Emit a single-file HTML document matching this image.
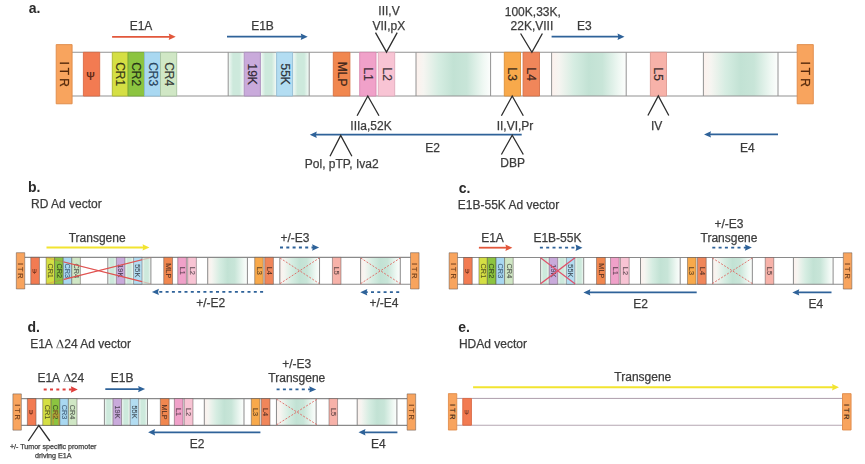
<!DOCTYPE html>
<html><head><meta charset="utf-8"><style>
html,body{margin:0;padding:0;background:#fff;}
body{width:865px;height:464px;overflow:hidden;}
svg{display:block;font-family:"Liberation Sans", sans-serif;filter:blur(0.45px);}
</style></head><body>
<svg width="865" height="464" viewBox="0 0 865 464">
<defs>
<clipPath id="cpb"><rect x="63.9" y="250" width="78.2" height="40"/></clipPath>
<linearGradient id="gg" x1="0" x2="1" y1="0" y2="0">
<stop offset="0" stop-color="#fdf1ed"/><stop offset="0.1" stop-color="#f6f5f1"/>
<stop offset="0.3" stop-color="#d6ede2"/><stop offset="0.5" stop-color="#c2e2d4"/>
<stop offset="0.68" stop-color="#c8e5d8"/><stop offset="0.9" stop-color="#eff8f3"/><stop offset="1" stop-color="#fdfefd"/>
</linearGradient>
<linearGradient id="gs" x1="0" x2="1" y1="0" y2="0">
<stop offset="0" stop-color="#f6fbf8"/><stop offset="0.3" stop-color="#cde9dc"/>
<stop offset="0.7" stop-color="#cde9dc"/><stop offset="1" stop-color="#f6fbf8"/>
</linearGradient>

</defs>
<g><rect x="72" y="52.3" width="725.2" height="43.70" fill="#ffffff"/>
<rect x="228.2" y="52.3" width="16.00" height="43.70" fill="url(#gs)"/>
<rect x="260.4" y="52.3" width="16.20" height="43.70" fill="url(#gs)"/>
<rect x="292.6" y="52.3" width="16.60" height="43.70" fill="url(#gs)"/>
<rect x="416" y="52.3" width="74.60" height="43.70" fill="url(#gg)"/>
<rect x="551.6" y="52.3" width="74.60" height="43.70" fill="url(#gg)"/>
<rect x="703.4" y="52.3" width="74.60" height="43.70" fill="url(#gg)"/>
<line x1="72" y1="52.3" x2="797.2" y2="52.3" stroke="#929292" stroke-width="1.1" vector-effect="non-scaling-stroke"/>
<line x1="72" y1="96.0" x2="797.2" y2="96.0" stroke="#929292" stroke-width="1.1" vector-effect="non-scaling-stroke"/>
<line x1="228.2" y1="52.3" x2="228.2" y2="96.0" stroke="#929292" stroke-width="1" vector-effect="non-scaling-stroke"/>
<line x1="309.2" y1="52.3" x2="309.2" y2="96.0" stroke="#929292" stroke-width="1" vector-effect="non-scaling-stroke"/>
<line x1="416" y1="52.3" x2="416" y2="96.0" stroke="#929292" stroke-width="1" vector-effect="non-scaling-stroke"/>
<line x1="490.6" y1="52.3" x2="490.6" y2="96.0" stroke="#929292" stroke-width="1" vector-effect="non-scaling-stroke"/>
<line x1="551.6" y1="52.3" x2="551.6" y2="96.0" stroke="#929292" stroke-width="1" vector-effect="non-scaling-stroke"/>
<line x1="626.2" y1="52.3" x2="626.2" y2="96.0" stroke="#929292" stroke-width="1" vector-effect="non-scaling-stroke"/>
<line x1="703.4" y1="52.3" x2="703.4" y2="96.0" stroke="#929292" stroke-width="1" vector-effect="non-scaling-stroke"/>
<line x1="778" y1="52.3" x2="778" y2="96.0" stroke="#929292" stroke-width="1" vector-effect="non-scaling-stroke"/>
<rect x="83.4" y="52.3" width="16.30" height="43.70" fill="#f27b52" stroke="#d96a45" stroke-width="0.9" vector-effect="non-scaling-stroke"/><text x="0" y="0" transform="translate(90.45,75.85) rotate(0)" font-weight="bold" stroke="rgba(70,25,10,0.84)" stroke-width="0" text-anchor="middle" dominant-baseline="central" font-size="10.5" fill="rgba(70,25,10,0.84)" letter-spacing="0">Ψ</text>
<rect x="112.3" y="52.3" width="15.80" height="43.70" fill="#d5df44" stroke="#aab530" stroke-width="0.9" vector-effect="non-scaling-stroke"/><text x="0" y="0" transform="translate(120.20,74.15) rotate(90)" font-weight="normal" stroke="rgba(10,8,12,0.74)" stroke-width="0.3" text-anchor="middle" dominant-baseline="central" font-size="12" fill="rgba(10,8,12,0.74)" letter-spacing="0">CR1</text>
<rect x="128.1" y="52.3" width="16.40" height="43.70" fill="#8cc440" stroke="#74a835" stroke-width="0.9" vector-effect="non-scaling-stroke"/><text x="0" y="0" transform="translate(136.30,74.15) rotate(90)" font-weight="normal" stroke="rgba(10,8,12,0.74)" stroke-width="0.3" text-anchor="middle" dominant-baseline="central" font-size="12" fill="rgba(10,8,12,0.74)" letter-spacing="0">CR2</text>
<rect x="144.5" y="52.3" width="16.00" height="43.70" fill="#a9d8f1" stroke="#8cbcd6" stroke-width="0.9" vector-effect="non-scaling-stroke"/><text x="0" y="0" transform="translate(152.50,74.15) rotate(90)" font-weight="normal" stroke="rgba(5,25,55,0.74)" stroke-width="0.3" text-anchor="middle" dominant-baseline="central" font-size="12" fill="rgba(5,25,55,0.74)" letter-spacing="0">CR3</text>
<rect x="160.5" y="52.3" width="16.20" height="43.70" fill="#d0e7c5" stroke="#a9c4a0" stroke-width="0.9" vector-effect="non-scaling-stroke"/><text x="0" y="0" transform="translate(168.60,74.15) rotate(90)" font-weight="normal" stroke="rgba(10,8,12,0.74)" stroke-width="0.3" text-anchor="middle" dominant-baseline="central" font-size="12" fill="rgba(10,8,12,0.74)" letter-spacing="0">CR4</text>
<rect x="244.2" y="52.3" width="16.20" height="43.70" fill="#c9aadb" stroke="#a98dbb" stroke-width="0.9" vector-effect="non-scaling-stroke"/><text x="0" y="0" transform="translate(252.30,74.15) rotate(90)" font-weight="normal" stroke="rgba(10,8,12,0.74)" stroke-width="0.3" text-anchor="middle" dominant-baseline="central" font-size="12" fill="rgba(10,8,12,0.74)" letter-spacing="0">19K</text>
<rect x="276.6" y="52.3" width="16.00" height="43.70" fill="#b3ddf2" stroke="#92bcd3" stroke-width="0.9" vector-effect="non-scaling-stroke"/><text x="0" y="0" transform="translate(284.60,74.15) rotate(90)" font-weight="normal" stroke="rgba(10,8,12,0.74)" stroke-width="0.3" text-anchor="middle" dominant-baseline="central" font-size="12" fill="rgba(10,8,12,0.74)" letter-spacing="0">55K</text>
<rect x="333.3" y="52.3" width="16.60" height="43.70" fill="#f1874f" stroke="#d87040" stroke-width="0.9" vector-effect="non-scaling-stroke"/><text x="0" y="0" transform="translate(341.60,74.15) rotate(90)" font-weight="normal" stroke="rgba(10,8,12,0.74)" stroke-width="0.3" text-anchor="middle" dominant-baseline="central" font-size="12" fill="rgba(10,8,12,0.74)" letter-spacing="0">MLP</text>
<rect x="359.7" y="52.3" width="16.30" height="43.70" fill="#f0a1c9" stroke="#d888b0" stroke-width="0.9" vector-effect="non-scaling-stroke"/><text x="0" y="0" transform="translate(367.85,74.15) rotate(90)" font-weight="normal" stroke="rgba(10,8,12,0.74)" stroke-width="0.3" text-anchor="middle" dominant-baseline="central" font-size="12" fill="rgba(10,8,12,0.74)" letter-spacing="0">L1</text>
<rect x="378.3" y="52.3" width="16.40" height="43.70" fill="#f8c4d4" stroke="#dfaabb" stroke-width="0.9" vector-effect="non-scaling-stroke"/><text x="0" y="0" transform="translate(386.50,74.15) rotate(90)" font-weight="normal" stroke="rgba(10,8,12,0.74)" stroke-width="0.3" text-anchor="middle" dominant-baseline="central" font-size="12" fill="rgba(10,8,12,0.74)" letter-spacing="0">L2</text>
<rect x="504.3" y="52.3" width="16.20" height="43.70" fill="#f8a94b" stroke="#dd9038" stroke-width="0.9" vector-effect="non-scaling-stroke"/><text x="0" y="0" transform="translate(512.40,74.15) rotate(90)" font-weight="normal" stroke="rgba(10,8,12,0.74)" stroke-width="0.3" text-anchor="middle" dominant-baseline="central" font-size="12" fill="rgba(10,8,12,0.74)" letter-spacing="0">L3</text>
<rect x="523.1" y="52.3" width="16.40" height="43.70" fill="#f0865a" stroke="#d26e46" stroke-width="0.9" vector-effect="non-scaling-stroke"/><text x="0" y="0" transform="translate(531.30,74.15) rotate(90)" font-weight="normal" stroke="rgba(10,8,12,0.74)" stroke-width="0.3" text-anchor="middle" dominant-baseline="central" font-size="12" fill="rgba(10,8,12,0.74)" letter-spacing="0">L4</text>
<rect x="650.4" y="52.3" width="16.10" height="43.70" fill="#f7b2a9" stroke="#dc9890" stroke-width="0.9" vector-effect="non-scaling-stroke"/><text x="0" y="0" transform="translate(658.45,74.15) rotate(90)" font-weight="normal" stroke="rgba(10,8,12,0.74)" stroke-width="0.3" text-anchor="middle" dominant-baseline="central" font-size="12" fill="rgba(10,8,12,0.74)" letter-spacing="0">L5</text>
<rect x="56.2" y="44.6" width="15.90" height="59.20" fill="#f8a45e" stroke="#df8a48" stroke-width="0.9" vector-effect="non-scaling-stroke"/><text x="0" y="0" transform="translate(64.15,74.20) rotate(90)" font-weight="normal" stroke="rgba(70,30,5,0.89)" stroke-width="0.3" text-anchor="middle" dominant-baseline="central" font-size="12" fill="rgba(70,30,5,0.89)" letter-spacing="0">I T R</text>
<rect x="797.2" y="44.6" width="16.10" height="59.20" fill="#f8a45e" stroke="#df8a48" stroke-width="0.9" vector-effect="non-scaling-stroke"/><text x="0" y="0" transform="translate(805.25,74.20) rotate(90)" font-weight="normal" stroke="rgba(70,30,5,0.89)" stroke-width="0.3" text-anchor="middle" dominant-baseline="central" font-size="12" fill="rgba(70,30,5,0.89)" letter-spacing="0">I T R</text></g>
<text x="28.7" y="12.8" text-anchor="start" font-size="14" fill="#2a2a2a" font-weight="bold" >a.</text>
<text x="141" y="30.2" text-anchor="middle" font-size="12" fill="#3c3c3c" font-weight="normal" stroke="#3c3c3c" stroke-width="0.25" >E1A</text>
<line x1="112.1" y1="36.8" x2="171.85" y2="36.8" stroke="#e2573b" stroke-width="1.8"/><path d="M175.7,36.8 L168.70,33.60 L169.54,36.8 L168.70,40.00 Z" fill="#e2573b"/>
<text x="262.5" y="30.2" text-anchor="middle" font-size="12" fill="#3c3c3c" font-weight="normal" stroke="#3c3c3c" stroke-width="0.25" >E1B</text>
<line x1="227" y1="36.7" x2="303.85" y2="36.7" stroke="#2e6299" stroke-width="1.8"/><path d="M307.7,36.7 L300.70,33.50 L301.54,36.7 L300.70,39.90 Z" fill="#2e6299"/>
<text x="389" y="15.4" text-anchor="middle" font-size="12" fill="#3c3c3c" font-weight="normal" stroke="#3c3c3c" stroke-width="0.25" >III,V</text>
<text x="388.8" y="29.6" text-anchor="middle" font-size="12" fill="#3c3c3c" font-weight="normal" stroke="#3c3c3c" stroke-width="0.25" >VII,pX</text>
<polyline points="375.5,32.6 386.5,52.1 397.2,32.6" fill="none" stroke="#2d2d2d" stroke-width="1.3"/>
<text x="532.8" y="15.7" text-anchor="middle" font-size="12" fill="#3c3c3c" font-weight="normal" stroke="#3c3c3c" stroke-width="0.25" >100K,33K,</text>
<text x="531.9" y="30.3" text-anchor="middle" font-size="12" fill="#3c3c3c" font-weight="normal" stroke="#3c3c3c" stroke-width="0.25" >22K,VIII</text>
<polyline points="520.6,33.5 531.9,52.3 542.4,33.5" fill="none" stroke="#2d2d2d" stroke-width="1.3"/>
<text x="584.4" y="30.3" text-anchor="middle" font-size="12" fill="#3c3c3c" font-weight="normal" stroke="#3c3c3c" stroke-width="0.25" >E3</text>
<line x1="551.6" y1="36.7" x2="620.65" y2="36.7" stroke="#2e6299" stroke-width="1.8"/><path d="M624.5,36.7 L617.50,33.50 L618.34,36.7 L617.50,39.90 Z" fill="#2e6299"/>
<polyline points="357.1,115.7 367.8,96 379,115.7" fill="none" stroke="#2d2d2d" stroke-width="1.3"/>
<text x="371" y="130.3" text-anchor="middle" font-size="12" fill="#3c3c3c" font-weight="normal" stroke="#3c3c3c" stroke-width="0.25" >IIIa,52K</text>
<line x1="521.7" y1="134.7" x2="313.65" y2="134.7" stroke="#2e6299" stroke-width="1.8"/><path d="M309.8,134.7 L316.80,131.50 L315.96,134.7 L316.80,137.90 Z" fill="#2e6299"/>
<polyline points="330,156.2 340.7,135.5 351.9,156.2" fill="none" stroke="#2d2d2d" stroke-width="1.3"/>
<text x="341.7" y="168" text-anchor="middle" font-size="12" fill="#3c3c3c" font-weight="normal" stroke="#3c3c3c" stroke-width="0.25" >Pol, pTP, Iva2</text>
<text x="432.6" y="151.9" text-anchor="middle" font-size="12" fill="#3c3c3c" font-weight="normal" stroke="#3c3c3c" stroke-width="0.25" >E2</text>
<polyline points="501.4,115.7 512.2,96 523.3,115.7" fill="none" stroke="#2d2d2d" stroke-width="1.3"/>
<text x="515" y="130.3" text-anchor="middle" font-size="12" fill="#3c3c3c" font-weight="normal" stroke="#3c3c3c" stroke-width="0.25" >II,VI,Pr</text>
<polyline points="501.4,154.5 512.2,135.2 523.3,154.5" fill="none" stroke="#2d2d2d" stroke-width="1.3"/>
<text x="512.6" y="167.4" text-anchor="middle" font-size="12" fill="#3c3c3c" font-weight="normal" stroke="#3c3c3c" stroke-width="0.25" >DBP</text>
<polyline points="647.9,115.5 658.3,96 668.8,115.5" fill="none" stroke="#2d2d2d" stroke-width="1.3"/>
<text x="656.6" y="130.3" text-anchor="middle" font-size="12" fill="#3c3c3c" font-weight="normal" stroke="#3c3c3c" stroke-width="0.25" >IV</text>
<line x1="778" y1="134.4" x2="707.85" y2="134.4" stroke="#2e6299" stroke-width="1.8"/><path d="M704,134.4 L711.00,131.20 L710.16,134.4 L711.00,137.60 Z" fill="#2e6299"/>
<text x="747.3" y="151.6" text-anchor="middle" font-size="12" fill="#3c3c3c" font-weight="normal" stroke="#3c3c3c" stroke-width="0.25" >E4</text>
<g transform="translate(-13.60,225.34) scale(0.532,0.613)"><rect x="72" y="52.3" width="725.2" height="43.70" fill="#ffffff"/>
<rect x="228.2" y="52.3" width="16.00" height="43.70" fill="url(#gs)"/>
<rect x="260.4" y="52.3" width="16.20" height="43.70" fill="url(#gs)"/>
<rect x="292.6" y="52.3" width="16.60" height="43.70" fill="url(#gs)"/>
<rect x="416" y="52.3" width="74.60" height="43.70" fill="url(#gg)"/>
<rect x="551.6" y="52.3" width="74.60" height="43.70" fill="url(#gg)"/>
<rect x="703.4" y="52.3" width="74.60" height="43.70" fill="url(#gg)"/>
<line x1="72" y1="52.3" x2="797.2" y2="52.3" stroke="#8a8a8a" stroke-width="1.1" vector-effect="non-scaling-stroke"/>
<line x1="72" y1="96.0" x2="797.2" y2="96.0" stroke="#8a8a8a" stroke-width="1.1" vector-effect="non-scaling-stroke"/>
<line x1="228.2" y1="52.3" x2="228.2" y2="96.0" stroke="#8a8a8a" stroke-width="1" vector-effect="non-scaling-stroke"/>
<line x1="309.2" y1="52.3" x2="309.2" y2="96.0" stroke="#8a8a8a" stroke-width="1" vector-effect="non-scaling-stroke"/>
<line x1="416" y1="52.3" x2="416" y2="96.0" stroke="#8a8a8a" stroke-width="1" vector-effect="non-scaling-stroke"/>
<line x1="490.6" y1="52.3" x2="490.6" y2="96.0" stroke="#8a8a8a" stroke-width="1" vector-effect="non-scaling-stroke"/>
<line x1="551.6" y1="52.3" x2="551.6" y2="96.0" stroke="#8a8a8a" stroke-width="1" vector-effect="non-scaling-stroke"/>
<line x1="626.2" y1="52.3" x2="626.2" y2="96.0" stroke="#8a8a8a" stroke-width="1" vector-effect="non-scaling-stroke"/>
<line x1="703.4" y1="52.3" x2="703.4" y2="96.0" stroke="#8a8a8a" stroke-width="1" vector-effect="non-scaling-stroke"/>
<line x1="778" y1="52.3" x2="778" y2="96.0" stroke="#8a8a8a" stroke-width="1" vector-effect="non-scaling-stroke"/>
<rect x="83.4" y="52.3" width="16.30" height="43.70" fill="#f27b52" stroke="rgba(80,70,70,0.5)" stroke-width="0.9" vector-effect="non-scaling-stroke"/><text x="0" y="0" transform="translate(90.45,75.85) rotate(0)" font-weight="bold" stroke="rgba(70,25,10,0.65)" stroke-width="0" text-anchor="middle" dominant-baseline="central" font-size="10.5" fill="rgba(70,25,10,0.65)" letter-spacing="0">Ψ</text>
<rect x="112.3" y="52.3" width="15.80" height="43.70" fill="#d5df44" stroke="rgba(80,70,70,0.5)" stroke-width="0.9" vector-effect="non-scaling-stroke"/><text x="0" y="0" transform="translate(120.20,74.15) rotate(90)" font-weight="normal" stroke="rgba(10,8,12,0.55)" stroke-width="0.3" text-anchor="middle" dominant-baseline="central" font-size="12" fill="rgba(10,8,12,0.55)" letter-spacing="0">CR1</text>
<rect x="128.1" y="52.3" width="16.40" height="43.70" fill="#8cc440" stroke="rgba(80,70,70,0.5)" stroke-width="0.9" vector-effect="non-scaling-stroke"/><text x="0" y="0" transform="translate(136.30,74.15) rotate(90)" font-weight="normal" stroke="rgba(10,8,12,0.55)" stroke-width="0.3" text-anchor="middle" dominant-baseline="central" font-size="12" fill="rgba(10,8,12,0.55)" letter-spacing="0">CR2</text>
<rect x="144.5" y="52.3" width="16.00" height="43.70" fill="#a9d8f1" stroke="rgba(80,70,70,0.5)" stroke-width="0.9" vector-effect="non-scaling-stroke"/><text x="0" y="0" transform="translate(152.50,74.15) rotate(90)" font-weight="normal" stroke="rgba(5,25,55,0.55)" stroke-width="0.3" text-anchor="middle" dominant-baseline="central" font-size="12" fill="rgba(5,25,55,0.55)" letter-spacing="0">CR3</text>
<rect x="160.5" y="52.3" width="16.20" height="43.70" fill="#d0e7c5" stroke="rgba(80,70,70,0.5)" stroke-width="0.9" vector-effect="non-scaling-stroke"/><text x="0" y="0" transform="translate(168.60,74.15) rotate(90)" font-weight="normal" stroke="rgba(10,8,12,0.55)" stroke-width="0.3" text-anchor="middle" dominant-baseline="central" font-size="12" fill="rgba(10,8,12,0.55)" letter-spacing="0">CR4</text>
<rect x="244.2" y="52.3" width="16.20" height="43.70" fill="#c9aadb" stroke="rgba(80,70,70,0.5)" stroke-width="0.9" vector-effect="non-scaling-stroke"/><text x="0" y="0" transform="translate(252.30,74.15) rotate(90)" font-weight="normal" stroke="rgba(10,8,12,0.55)" stroke-width="0.3" text-anchor="middle" dominant-baseline="central" font-size="12" fill="rgba(10,8,12,0.55)" letter-spacing="0">19K</text>
<rect x="276.6" y="52.3" width="16.00" height="43.70" fill="#b3ddf2" stroke="rgba(80,70,70,0.5)" stroke-width="0.9" vector-effect="non-scaling-stroke"/><text x="0" y="0" transform="translate(284.60,74.15) rotate(90)" font-weight="normal" stroke="rgba(10,8,12,0.55)" stroke-width="0.3" text-anchor="middle" dominant-baseline="central" font-size="12" fill="rgba(10,8,12,0.55)" letter-spacing="0">55K</text>
<rect x="333.3" y="52.3" width="16.60" height="43.70" fill="#f1874f" stroke="rgba(80,70,70,0.5)" stroke-width="0.9" vector-effect="non-scaling-stroke"/><text x="0" y="0" transform="translate(341.60,74.15) rotate(90)" font-weight="normal" stroke="rgba(10,8,12,0.55)" stroke-width="0.3" text-anchor="middle" dominant-baseline="central" font-size="12" fill="rgba(10,8,12,0.55)" letter-spacing="0">MLP</text>
<rect x="359.7" y="52.3" width="16.30" height="43.70" fill="#f0a1c9" stroke="rgba(80,70,70,0.5)" stroke-width="0.9" vector-effect="non-scaling-stroke"/><text x="0" y="0" transform="translate(367.85,74.15) rotate(90)" font-weight="normal" stroke="rgba(10,8,12,0.55)" stroke-width="0.3" text-anchor="middle" dominant-baseline="central" font-size="12" fill="rgba(10,8,12,0.55)" letter-spacing="0">L1</text>
<rect x="378.3" y="52.3" width="16.40" height="43.70" fill="#f8c4d4" stroke="rgba(80,70,70,0.5)" stroke-width="0.9" vector-effect="non-scaling-stroke"/><text x="0" y="0" transform="translate(386.50,74.15) rotate(90)" font-weight="normal" stroke="rgba(10,8,12,0.55)" stroke-width="0.3" text-anchor="middle" dominant-baseline="central" font-size="12" fill="rgba(10,8,12,0.55)" letter-spacing="0">L2</text>
<rect x="504.3" y="52.3" width="16.20" height="43.70" fill="#f8a94b" stroke="rgba(80,70,70,0.5)" stroke-width="0.9" vector-effect="non-scaling-stroke"/><text x="0" y="0" transform="translate(512.40,74.15) rotate(90)" font-weight="normal" stroke="rgba(10,8,12,0.55)" stroke-width="0.3" text-anchor="middle" dominant-baseline="central" font-size="12" fill="rgba(10,8,12,0.55)" letter-spacing="0">L3</text>
<rect x="523.1" y="52.3" width="16.40" height="43.70" fill="#f0865a" stroke="rgba(80,70,70,0.5)" stroke-width="0.9" vector-effect="non-scaling-stroke"/><text x="0" y="0" transform="translate(531.30,74.15) rotate(90)" font-weight="normal" stroke="rgba(10,8,12,0.55)" stroke-width="0.3" text-anchor="middle" dominant-baseline="central" font-size="12" fill="rgba(10,8,12,0.55)" letter-spacing="0">L4</text>
<rect x="650.4" y="52.3" width="16.10" height="43.70" fill="#f7b2a9" stroke="rgba(80,70,70,0.5)" stroke-width="0.9" vector-effect="non-scaling-stroke"/><text x="0" y="0" transform="translate(658.45,74.15) rotate(90)" font-weight="normal" stroke="rgba(10,8,12,0.55)" stroke-width="0.3" text-anchor="middle" dominant-baseline="central" font-size="12" fill="rgba(10,8,12,0.55)" letter-spacing="0">L5</text>
<rect x="56.2" y="44.6" width="15.90" height="59.20" fill="#f8a45e" stroke="rgba(80,70,70,0.5)" stroke-width="0.9" vector-effect="non-scaling-stroke"/><text x="0" y="0" transform="translate(64.15,74.20) rotate(90)" font-weight="normal" stroke="rgba(70,30,5,0.7000000000000001)" stroke-width="0.3" text-anchor="middle" dominant-baseline="central" font-size="12" fill="rgba(70,30,5,0.7000000000000001)" letter-spacing="0">I T R</text>
<rect x="797.2" y="44.6" width="16.10" height="59.20" fill="#f8a45e" stroke="rgba(80,70,70,0.5)" stroke-width="0.9" vector-effect="non-scaling-stroke"/><text x="0" y="0" transform="translate(805.25,74.20) rotate(90)" font-weight="normal" stroke="rgba(70,30,5,0.7000000000000001)" stroke-width="0.3" text-anchor="middle" dominant-baseline="central" font-size="12" fill="rgba(70,30,5,0.7000000000000001)" letter-spacing="0">I T R</text></g>
<text x="27.9" y="192.3" text-anchor="start" font-size="14" fill="#2a2a2a" font-weight="bold" >b.</text>
<text x="31" y="208" text-anchor="start" font-size="12" fill="#3c3c3c" font-weight="normal" stroke="#3c3c3c" stroke-width="0.25" >RD Ad vector</text>
<text x="97.2" y="242.4" text-anchor="middle" font-size="12" fill="#3c3c3c" font-weight="normal" stroke="#3c3c3c" stroke-width="0.25" >Transgene</text>
<line x1="46.5" y1="247.4" x2="145.65" y2="247.4" stroke="#f2e430" stroke-width="2"/><path d="M149.5,247.4 L142.50,244.20 L143.34,247.4 L142.50,250.60 Z" fill="#f2e430"/>
<g opacity="0.28"><line x1="46.5" y1="257.6" x2="150.5" y2="283.8" stroke="#e0504e" stroke-width="1.1"/><line x1="46.5" y1="283.8" x2="150.5" y2="257.6" stroke="#e0504e" stroke-width="1.1"/></g>
<g clip-path="url(#cpb)"><line x1="46.5" y1="257.6" x2="150.5" y2="283.8" stroke="#e0504e" stroke-width="1.1"/><line x1="46.5" y1="283.8" x2="150.5" y2="257.6" stroke="#e0504e" stroke-width="1.1"/></g>
<line x1="280" y1="258" x2="319.3" y2="283.6" stroke="#e06862" stroke-width="0.9" stroke-dasharray="2,1.5"/><line x1="280" y1="283.6" x2="319.3" y2="258" stroke="#e06862" stroke-width="0.9" stroke-dasharray="2,1.5"/>
<line x1="360.7" y1="258" x2="400.3" y2="283.6" stroke="#e06862" stroke-width="0.9" stroke-dasharray="2,1.5"/><line x1="360.7" y1="283.6" x2="400.3" y2="258" stroke="#e06862" stroke-width="0.9" stroke-dasharray="2,1.5"/>
<text x="295" y="242.4" text-anchor="middle" font-size="12" fill="#3c3c3c" font-weight="normal" stroke="#3c3c3c" stroke-width="0.25" >+/-E3</text>
<line x1="280" y1="247.5" x2="315.25" y2="247.5" stroke="#2e6299" stroke-width="1.8" stroke-dasharray="3.0,3.3"/><path d="M319.1,247.5 L312.10,244.30 L312.94,247.5 L312.10,250.70 Z" fill="#2e6299"/>
<line x1="263.1" y1="291.9" x2="155.75" y2="291.9" stroke="#2e6299" stroke-width="1.8" stroke-dasharray="3.0,3.3"/><path d="M151.9,291.9 L158.90,288.70 L158.06,291.9 L158.90,295.10 Z" fill="#2e6299"/>
<text x="210.8" y="307.4" text-anchor="middle" font-size="12" fill="#3c3c3c" font-weight="normal" stroke="#3c3c3c" stroke-width="0.25" >+/-E2</text>
<line x1="399.2" y1="292.2" x2="364.15" y2="292.2" stroke="#2e6299" stroke-width="1.8" stroke-dasharray="3.0,3.3"/><path d="M360.3,292.2 L367.30,289.00 L366.46,292.2 L367.30,295.40 Z" fill="#2e6299"/>
<text x="383.9" y="307.4" text-anchor="middle" font-size="12" fill="#3c3c3c" font-weight="normal" stroke="#3c3c3c" stroke-width="0.25" >+/-E4</text>
<g transform="translate(419.20,225.44) scale(0.532,0.613)"><rect x="72" y="52.3" width="725.2" height="43.70" fill="#ffffff"/>
<rect x="228.2" y="52.3" width="16.00" height="43.70" fill="url(#gs)"/>
<rect x="260.4" y="52.3" width="16.20" height="43.70" fill="url(#gs)"/>
<rect x="292.6" y="52.3" width="16.60" height="43.70" fill="url(#gs)"/>
<rect x="416" y="52.3" width="74.60" height="43.70" fill="url(#gg)"/>
<rect x="551.6" y="52.3" width="74.60" height="43.70" fill="url(#gg)"/>
<rect x="703.4" y="52.3" width="74.60" height="43.70" fill="url(#gg)"/>
<line x1="72" y1="52.3" x2="797.2" y2="52.3" stroke="#8a8a8a" stroke-width="1.1" vector-effect="non-scaling-stroke"/>
<line x1="72" y1="96.0" x2="797.2" y2="96.0" stroke="#8a8a8a" stroke-width="1.1" vector-effect="non-scaling-stroke"/>
<line x1="228.2" y1="52.3" x2="228.2" y2="96.0" stroke="#8a8a8a" stroke-width="1" vector-effect="non-scaling-stroke"/>
<line x1="309.2" y1="52.3" x2="309.2" y2="96.0" stroke="#8a8a8a" stroke-width="1" vector-effect="non-scaling-stroke"/>
<line x1="416" y1="52.3" x2="416" y2="96.0" stroke="#8a8a8a" stroke-width="1" vector-effect="non-scaling-stroke"/>
<line x1="490.6" y1="52.3" x2="490.6" y2="96.0" stroke="#8a8a8a" stroke-width="1" vector-effect="non-scaling-stroke"/>
<line x1="551.6" y1="52.3" x2="551.6" y2="96.0" stroke="#8a8a8a" stroke-width="1" vector-effect="non-scaling-stroke"/>
<line x1="626.2" y1="52.3" x2="626.2" y2="96.0" stroke="#8a8a8a" stroke-width="1" vector-effect="non-scaling-stroke"/>
<line x1="703.4" y1="52.3" x2="703.4" y2="96.0" stroke="#8a8a8a" stroke-width="1" vector-effect="non-scaling-stroke"/>
<line x1="778" y1="52.3" x2="778" y2="96.0" stroke="#8a8a8a" stroke-width="1" vector-effect="non-scaling-stroke"/>
<rect x="83.4" y="52.3" width="16.30" height="43.70" fill="#f27b52" stroke="rgba(80,70,70,0.5)" stroke-width="0.9" vector-effect="non-scaling-stroke"/><text x="0" y="0" transform="translate(90.45,75.85) rotate(0)" font-weight="bold" stroke="rgba(70,25,10,0.65)" stroke-width="0" text-anchor="middle" dominant-baseline="central" font-size="10.5" fill="rgba(70,25,10,0.65)" letter-spacing="0">Ψ</text>
<rect x="112.3" y="52.3" width="15.80" height="43.70" fill="#d5df44" stroke="rgba(80,70,70,0.5)" stroke-width="0.9" vector-effect="non-scaling-stroke"/><text x="0" y="0" transform="translate(120.20,74.15) rotate(90)" font-weight="normal" stroke="rgba(10,8,12,0.55)" stroke-width="0.3" text-anchor="middle" dominant-baseline="central" font-size="12" fill="rgba(10,8,12,0.55)" letter-spacing="0">CR1</text>
<rect x="128.1" y="52.3" width="16.40" height="43.70" fill="#8cc440" stroke="rgba(80,70,70,0.5)" stroke-width="0.9" vector-effect="non-scaling-stroke"/><text x="0" y="0" transform="translate(136.30,74.15) rotate(90)" font-weight="normal" stroke="rgba(10,8,12,0.55)" stroke-width="0.3" text-anchor="middle" dominant-baseline="central" font-size="12" fill="rgba(10,8,12,0.55)" letter-spacing="0">CR2</text>
<rect x="144.5" y="52.3" width="16.00" height="43.70" fill="#a9d8f1" stroke="rgba(80,70,70,0.5)" stroke-width="0.9" vector-effect="non-scaling-stroke"/><text x="0" y="0" transform="translate(152.50,74.15) rotate(90)" font-weight="normal" stroke="rgba(5,25,55,0.55)" stroke-width="0.3" text-anchor="middle" dominant-baseline="central" font-size="12" fill="rgba(5,25,55,0.55)" letter-spacing="0">CR3</text>
<rect x="160.5" y="52.3" width="16.20" height="43.70" fill="#d0e7c5" stroke="rgba(80,70,70,0.5)" stroke-width="0.9" vector-effect="non-scaling-stroke"/><text x="0" y="0" transform="translate(168.60,74.15) rotate(90)" font-weight="normal" stroke="rgba(10,8,12,0.55)" stroke-width="0.3" text-anchor="middle" dominant-baseline="central" font-size="12" fill="rgba(10,8,12,0.55)" letter-spacing="0">CR4</text>
<rect x="244.2" y="52.3" width="16.20" height="43.70" fill="#c9aadb" stroke="rgba(80,70,70,0.5)" stroke-width="0.9" vector-effect="non-scaling-stroke"/><text x="0" y="0" transform="translate(252.30,74.15) rotate(90)" font-weight="normal" stroke="rgba(10,8,12,0.55)" stroke-width="0.3" text-anchor="middle" dominant-baseline="central" font-size="12" fill="rgba(10,8,12,0.55)" letter-spacing="0">19K</text>
<rect x="276.6" y="52.3" width="16.00" height="43.70" fill="#b3ddf2" stroke="rgba(80,70,70,0.5)" stroke-width="0.9" vector-effect="non-scaling-stroke"/><text x="0" y="0" transform="translate(284.60,74.15) rotate(90)" font-weight="normal" stroke="rgba(10,8,12,0.55)" stroke-width="0.3" text-anchor="middle" dominant-baseline="central" font-size="12" fill="rgba(10,8,12,0.55)" letter-spacing="0">55K</text>
<rect x="333.3" y="52.3" width="16.60" height="43.70" fill="#f1874f" stroke="rgba(80,70,70,0.5)" stroke-width="0.9" vector-effect="non-scaling-stroke"/><text x="0" y="0" transform="translate(341.60,74.15) rotate(90)" font-weight="normal" stroke="rgba(10,8,12,0.55)" stroke-width="0.3" text-anchor="middle" dominant-baseline="central" font-size="12" fill="rgba(10,8,12,0.55)" letter-spacing="0">MLP</text>
<rect x="359.7" y="52.3" width="16.30" height="43.70" fill="#f0a1c9" stroke="rgba(80,70,70,0.5)" stroke-width="0.9" vector-effect="non-scaling-stroke"/><text x="0" y="0" transform="translate(367.85,74.15) rotate(90)" font-weight="normal" stroke="rgba(10,8,12,0.55)" stroke-width="0.3" text-anchor="middle" dominant-baseline="central" font-size="12" fill="rgba(10,8,12,0.55)" letter-spacing="0">L1</text>
<rect x="378.3" y="52.3" width="16.40" height="43.70" fill="#f8c4d4" stroke="rgba(80,70,70,0.5)" stroke-width="0.9" vector-effect="non-scaling-stroke"/><text x="0" y="0" transform="translate(386.50,74.15) rotate(90)" font-weight="normal" stroke="rgba(10,8,12,0.55)" stroke-width="0.3" text-anchor="middle" dominant-baseline="central" font-size="12" fill="rgba(10,8,12,0.55)" letter-spacing="0">L2</text>
<rect x="504.3" y="52.3" width="16.20" height="43.70" fill="#f8a94b" stroke="rgba(80,70,70,0.5)" stroke-width="0.9" vector-effect="non-scaling-stroke"/><text x="0" y="0" transform="translate(512.40,74.15) rotate(90)" font-weight="normal" stroke="rgba(10,8,12,0.55)" stroke-width="0.3" text-anchor="middle" dominant-baseline="central" font-size="12" fill="rgba(10,8,12,0.55)" letter-spacing="0">L3</text>
<rect x="523.1" y="52.3" width="16.40" height="43.70" fill="#f0865a" stroke="rgba(80,70,70,0.5)" stroke-width="0.9" vector-effect="non-scaling-stroke"/><text x="0" y="0" transform="translate(531.30,74.15) rotate(90)" font-weight="normal" stroke="rgba(10,8,12,0.55)" stroke-width="0.3" text-anchor="middle" dominant-baseline="central" font-size="12" fill="rgba(10,8,12,0.55)" letter-spacing="0">L4</text>
<rect x="650.4" y="52.3" width="16.10" height="43.70" fill="#f7b2a9" stroke="rgba(80,70,70,0.5)" stroke-width="0.9" vector-effect="non-scaling-stroke"/><text x="0" y="0" transform="translate(658.45,74.15) rotate(90)" font-weight="normal" stroke="rgba(10,8,12,0.55)" stroke-width="0.3" text-anchor="middle" dominant-baseline="central" font-size="12" fill="rgba(10,8,12,0.55)" letter-spacing="0">L5</text>
<rect x="56.2" y="44.6" width="15.90" height="59.20" fill="#f8a45e" stroke="rgba(80,70,70,0.5)" stroke-width="0.9" vector-effect="non-scaling-stroke"/><text x="0" y="0" transform="translate(64.15,74.20) rotate(90)" font-weight="normal" stroke="rgba(70,30,5,0.7000000000000001)" stroke-width="0.3" text-anchor="middle" dominant-baseline="central" font-size="12" fill="rgba(70,30,5,0.7000000000000001)" letter-spacing="0">I T R</text>
<rect x="797.2" y="44.6" width="16.10" height="59.20" fill="#f8a45e" stroke="rgba(80,70,70,0.5)" stroke-width="0.9" vector-effect="non-scaling-stroke"/><text x="0" y="0" transform="translate(805.25,74.20) rotate(90)" font-weight="normal" stroke="rgba(70,30,5,0.7000000000000001)" stroke-width="0.3" text-anchor="middle" dominant-baseline="central" font-size="12" fill="rgba(70,30,5,0.7000000000000001)" letter-spacing="0">I T R</text></g>
<text x="458.7" y="193.2" text-anchor="start" font-size="14" fill="#2a2a2a" font-weight="bold" >c.</text>
<text x="457.8" y="208.6" text-anchor="start" font-size="12" fill="#3c3c3c" font-weight="normal" stroke="#3c3c3c" stroke-width="0.25" >E1B-55K Ad vector</text>
<text x="492.5" y="242" text-anchor="middle" font-size="12" fill="#3c3c3c" font-weight="normal" stroke="#3c3c3c" stroke-width="0.25" >E1A</text>
<line x1="478.9" y1="247.7" x2="508.55" y2="247.7" stroke="#e2573b" stroke-width="1.8"/><path d="M512.4,247.7 L505.40,244.50 L506.24,247.7 L505.40,250.90 Z" fill="#e2573b"/>
<text x="557.4" y="242" text-anchor="middle" font-size="12" fill="#3c3c3c" font-weight="normal" stroke="#3c3c3c" stroke-width="0.25" >E1B-55K</text>
<line x1="539.9" y1="247.7" x2="578.65" y2="247.7" stroke="#2e6299" stroke-width="1.8" stroke-dasharray="3.0,3.3"/><path d="M582.5,247.7 L575.50,244.50 L576.34,247.7 L575.50,250.90 Z" fill="#2e6299"/>
<line x1="540.5" y1="257.8" x2="575" y2="283.8" stroke="#e0506a" stroke-width="1.3"/><line x1="540.5" y1="283.8" x2="575" y2="257.8" stroke="#e0506a" stroke-width="1.3"/>
<line x1="712.3" y1="258" x2="752.4" y2="283.6" stroke="#e06862" stroke-width="0.9" stroke-dasharray="2,1.5"/><line x1="712.3" y1="283.6" x2="752.4" y2="258" stroke="#e06862" stroke-width="0.9" stroke-dasharray="2,1.5"/>
<text x="729" y="227.6" text-anchor="middle" font-size="12" fill="#3c3c3c" font-weight="normal" stroke="#3c3c3c" stroke-width="0.25" >+/-E3</text>
<text x="729" y="242.4" text-anchor="middle" font-size="12" fill="#3c3c3c" font-weight="normal" stroke="#3c3c3c" stroke-width="0.25" >Transgene</text>
<line x1="712.3" y1="247.6" x2="748.05" y2="247.6" stroke="#2e6299" stroke-width="1.8" stroke-dasharray="3.0,3.3"/><path d="M751.9,247.6 L744.90,244.40 L745.74,247.6 L744.90,250.80 Z" fill="#2e6299"/>
<line x1="696.7" y1="292.4" x2="587.25" y2="292.4" stroke="#2e6299" stroke-width="1.8"/><path d="M583.4,292.4 L590.40,289.20 L589.56,292.4 L590.40,295.60 Z" fill="#2e6299"/>
<text x="640.7" y="307.5" text-anchor="middle" font-size="12" fill="#3c3c3c" font-weight="normal" stroke="#3c3c3c" stroke-width="0.25" >E2</text>
<line x1="831.5" y1="292.4" x2="796.15" y2="292.4" stroke="#2e6299" stroke-width="1.8"/><path d="M792.3,292.4 L799.30,289.20 L798.46,292.4 L799.30,295.60 Z" fill="#2e6299"/>
<text x="815.9" y="307.5" text-anchor="middle" font-size="12" fill="#3c3c3c" font-weight="normal" stroke="#3c3c3c" stroke-width="0.25" >E4</text>
<g transform="translate(-17.00,366.54) scale(0.532,0.613)"><rect x="72" y="52.3" width="725.2" height="43.70" fill="#ffffff"/>
<rect x="228.2" y="52.3" width="16.00" height="43.70" fill="url(#gs)"/>
<rect x="260.4" y="52.3" width="16.20" height="43.70" fill="url(#gs)"/>
<rect x="292.6" y="52.3" width="16.60" height="43.70" fill="url(#gs)"/>
<rect x="416" y="52.3" width="74.60" height="43.70" fill="url(#gg)"/>
<rect x="551.6" y="52.3" width="74.60" height="43.70" fill="url(#gg)"/>
<rect x="703.4" y="52.3" width="74.60" height="43.70" fill="url(#gg)"/>
<line x1="72" y1="52.3" x2="797.2" y2="52.3" stroke="#8a8a8a" stroke-width="1.1" vector-effect="non-scaling-stroke"/>
<line x1="72" y1="96.0" x2="797.2" y2="96.0" stroke="#8a8a8a" stroke-width="1.1" vector-effect="non-scaling-stroke"/>
<line x1="228.2" y1="52.3" x2="228.2" y2="96.0" stroke="#8a8a8a" stroke-width="1" vector-effect="non-scaling-stroke"/>
<line x1="309.2" y1="52.3" x2="309.2" y2="96.0" stroke="#8a8a8a" stroke-width="1" vector-effect="non-scaling-stroke"/>
<line x1="416" y1="52.3" x2="416" y2="96.0" stroke="#8a8a8a" stroke-width="1" vector-effect="non-scaling-stroke"/>
<line x1="490.6" y1="52.3" x2="490.6" y2="96.0" stroke="#8a8a8a" stroke-width="1" vector-effect="non-scaling-stroke"/>
<line x1="551.6" y1="52.3" x2="551.6" y2="96.0" stroke="#8a8a8a" stroke-width="1" vector-effect="non-scaling-stroke"/>
<line x1="626.2" y1="52.3" x2="626.2" y2="96.0" stroke="#8a8a8a" stroke-width="1" vector-effect="non-scaling-stroke"/>
<line x1="703.4" y1="52.3" x2="703.4" y2="96.0" stroke="#8a8a8a" stroke-width="1" vector-effect="non-scaling-stroke"/>
<line x1="778" y1="52.3" x2="778" y2="96.0" stroke="#8a8a8a" stroke-width="1" vector-effect="non-scaling-stroke"/>
<rect x="83.4" y="52.3" width="16.30" height="43.70" fill="#f27b52" stroke="rgba(80,70,70,0.5)" stroke-width="0.9" vector-effect="non-scaling-stroke"/><text x="0" y="0" transform="translate(90.45,75.85) rotate(0)" font-weight="bold" stroke="rgba(70,25,10,0.65)" stroke-width="0" text-anchor="middle" dominant-baseline="central" font-size="10.5" fill="rgba(70,25,10,0.65)" letter-spacing="0">Ψ</text>
<rect x="112.3" y="52.3" width="15.80" height="43.70" fill="#d5df44" stroke="rgba(80,70,70,0.5)" stroke-width="0.9" vector-effect="non-scaling-stroke"/><text x="0" y="0" transform="translate(120.20,74.15) rotate(90)" font-weight="normal" stroke="rgba(10,8,12,0.55)" stroke-width="0.3" text-anchor="middle" dominant-baseline="central" font-size="12" fill="rgba(10,8,12,0.55)" letter-spacing="0">CR1</text>
<rect x="128.1" y="52.3" width="16.40" height="43.70" fill="#8cc440" stroke="rgba(80,70,70,0.5)" stroke-width="0.9" vector-effect="non-scaling-stroke"/><text x="0" y="0" transform="translate(136.30,74.15) rotate(90)" font-weight="normal" stroke="rgba(10,8,12,0.55)" stroke-width="0.3" text-anchor="middle" dominant-baseline="central" font-size="12" fill="rgba(10,8,12,0.55)" letter-spacing="0">CR2</text>
<rect x="144.5" y="52.3" width="16.00" height="43.70" fill="#a9d8f1" stroke="rgba(80,70,70,0.5)" stroke-width="0.9" vector-effect="non-scaling-stroke"/><text x="0" y="0" transform="translate(152.50,74.15) rotate(90)" font-weight="normal" stroke="rgba(5,25,55,0.55)" stroke-width="0.3" text-anchor="middle" dominant-baseline="central" font-size="12" fill="rgba(5,25,55,0.55)" letter-spacing="0">CR3</text>
<rect x="160.5" y="52.3" width="16.20" height="43.70" fill="#d0e7c5" stroke="rgba(80,70,70,0.5)" stroke-width="0.9" vector-effect="non-scaling-stroke"/><text x="0" y="0" transform="translate(168.60,74.15) rotate(90)" font-weight="normal" stroke="rgba(10,8,12,0.55)" stroke-width="0.3" text-anchor="middle" dominant-baseline="central" font-size="12" fill="rgba(10,8,12,0.55)" letter-spacing="0">CR4</text>
<rect x="244.2" y="52.3" width="16.20" height="43.70" fill="#c9aadb" stroke="rgba(80,70,70,0.5)" stroke-width="0.9" vector-effect="non-scaling-stroke"/><text x="0" y="0" transform="translate(252.30,74.15) rotate(90)" font-weight="normal" stroke="rgba(10,8,12,0.55)" stroke-width="0.3" text-anchor="middle" dominant-baseline="central" font-size="12" fill="rgba(10,8,12,0.55)" letter-spacing="0">19K</text>
<rect x="276.6" y="52.3" width="16.00" height="43.70" fill="#b3ddf2" stroke="rgba(80,70,70,0.5)" stroke-width="0.9" vector-effect="non-scaling-stroke"/><text x="0" y="0" transform="translate(284.60,74.15) rotate(90)" font-weight="normal" stroke="rgba(10,8,12,0.55)" stroke-width="0.3" text-anchor="middle" dominant-baseline="central" font-size="12" fill="rgba(10,8,12,0.55)" letter-spacing="0">55K</text>
<rect x="333.3" y="52.3" width="16.60" height="43.70" fill="#f1874f" stroke="rgba(80,70,70,0.5)" stroke-width="0.9" vector-effect="non-scaling-stroke"/><text x="0" y="0" transform="translate(341.60,74.15) rotate(90)" font-weight="normal" stroke="rgba(10,8,12,0.55)" stroke-width="0.3" text-anchor="middle" dominant-baseline="central" font-size="12" fill="rgba(10,8,12,0.55)" letter-spacing="0">MLP</text>
<rect x="359.7" y="52.3" width="16.30" height="43.70" fill="#f0a1c9" stroke="rgba(80,70,70,0.5)" stroke-width="0.9" vector-effect="non-scaling-stroke"/><text x="0" y="0" transform="translate(367.85,74.15) rotate(90)" font-weight="normal" stroke="rgba(10,8,12,0.55)" stroke-width="0.3" text-anchor="middle" dominant-baseline="central" font-size="12" fill="rgba(10,8,12,0.55)" letter-spacing="0">L1</text>
<rect x="378.3" y="52.3" width="16.40" height="43.70" fill="#f8c4d4" stroke="rgba(80,70,70,0.5)" stroke-width="0.9" vector-effect="non-scaling-stroke"/><text x="0" y="0" transform="translate(386.50,74.15) rotate(90)" font-weight="normal" stroke="rgba(10,8,12,0.55)" stroke-width="0.3" text-anchor="middle" dominant-baseline="central" font-size="12" fill="rgba(10,8,12,0.55)" letter-spacing="0">L2</text>
<rect x="504.3" y="52.3" width="16.20" height="43.70" fill="#f8a94b" stroke="rgba(80,70,70,0.5)" stroke-width="0.9" vector-effect="non-scaling-stroke"/><text x="0" y="0" transform="translate(512.40,74.15) rotate(90)" font-weight="normal" stroke="rgba(10,8,12,0.55)" stroke-width="0.3" text-anchor="middle" dominant-baseline="central" font-size="12" fill="rgba(10,8,12,0.55)" letter-spacing="0">L3</text>
<rect x="523.1" y="52.3" width="16.40" height="43.70" fill="#f0865a" stroke="rgba(80,70,70,0.5)" stroke-width="0.9" vector-effect="non-scaling-stroke"/><text x="0" y="0" transform="translate(531.30,74.15) rotate(90)" font-weight="normal" stroke="rgba(10,8,12,0.55)" stroke-width="0.3" text-anchor="middle" dominant-baseline="central" font-size="12" fill="rgba(10,8,12,0.55)" letter-spacing="0">L4</text>
<rect x="650.4" y="52.3" width="16.10" height="43.70" fill="#f7b2a9" stroke="rgba(80,70,70,0.5)" stroke-width="0.9" vector-effect="non-scaling-stroke"/><text x="0" y="0" transform="translate(658.45,74.15) rotate(90)" font-weight="normal" stroke="rgba(10,8,12,0.55)" stroke-width="0.3" text-anchor="middle" dominant-baseline="central" font-size="12" fill="rgba(10,8,12,0.55)" letter-spacing="0">L5</text>
<rect x="56.2" y="44.6" width="15.90" height="59.20" fill="#f8a45e" stroke="rgba(80,70,70,0.5)" stroke-width="0.9" vector-effect="non-scaling-stroke"/><text x="0" y="0" transform="translate(64.15,74.20) rotate(90)" font-weight="normal" stroke="rgba(70,30,5,0.7000000000000001)" stroke-width="0.3" text-anchor="middle" dominant-baseline="central" font-size="12" fill="rgba(70,30,5,0.7000000000000001)" letter-spacing="0">I T R</text>
<rect x="797.2" y="44.6" width="16.10" height="59.20" fill="#f8a45e" stroke="rgba(80,70,70,0.5)" stroke-width="0.9" vector-effect="non-scaling-stroke"/><text x="0" y="0" transform="translate(805.25,74.20) rotate(90)" font-weight="normal" stroke="rgba(70,30,5,0.7000000000000001)" stroke-width="0.3" text-anchor="middle" dominant-baseline="central" font-size="12" fill="rgba(70,30,5,0.7000000000000001)" letter-spacing="0">I T R</text></g>
<text x="27.4" y="331.9" text-anchor="start" font-size="14" fill="#2a2a2a" font-weight="bold" >d.</text>
<text x="30.2" y="347.8" text-anchor="start" font-size="12" fill="#3c3c3c" font-weight="normal" stroke="#3c3c3c" stroke-width="0.25" >E1A</text>
<path d="M56.6,348.1 L59.90,339.8 L63.2,348.1" fill="none" stroke="#555" stroke-width="0.8"/><path d="M60.10,340.10 L63.00,348.1" stroke="#3a3a3a" stroke-width="1.3"/><path d="M56.6,347.80 L63.2,347.80" stroke="#999" stroke-width="0.7"/>
<text x="64.3" y="347.8" text-anchor="start" font-size="12" fill="#3c3c3c" font-weight="normal" stroke="#3c3c3c" stroke-width="0.25" >24 Ad vector</text>
<text x="37.4" y="382.1" text-anchor="start" font-size="12" fill="#3c3c3c" font-weight="normal" stroke="#3c3c3c" stroke-width="0.25" >E1A</text>
<path d="M63.9,381.8 L67.20,373.9 L70.5,381.8" fill="none" stroke="#555" stroke-width="0.8"/><path d="M67.40,374.20 L70.30,381.8" stroke="#3a3a3a" stroke-width="1.3"/><path d="M63.9,381.50 L70.5,381.50" stroke="#999" stroke-width="0.7"/>
<text x="70.8" y="382.1" text-anchor="start" font-size="12" fill="#3c3c3c" font-weight="normal" stroke="#3c3c3c" stroke-width="0.25" >24</text>
<line x1="43.7" y1="389.5" x2="73.95" y2="389.5" stroke="#e0403c" stroke-width="1.8" stroke-dasharray="3.0,3.3"/><path d="M77.8,389.5 L70.80,386.30 L71.64,389.5 L70.80,392.70 Z" fill="#e0403c"/>
<text x="122.2" y="382.1" text-anchor="middle" font-size="12" fill="#3c3c3c" font-weight="normal" stroke="#3c3c3c" stroke-width="0.25" >E1B</text>
<line x1="105.3" y1="389.1" x2="141.25" y2="389.1" stroke="#2e6299" stroke-width="1.8"/><path d="M145.1,389.1 L138.10,385.90 L138.94,389.1 L138.10,392.30 Z" fill="#2e6299"/>
<line x1="276.6" y1="399.2" x2="317.1" y2="424.8" stroke="#e06862" stroke-width="0.9" stroke-dasharray="2,1.5"/><line x1="276.6" y1="424.8" x2="317.1" y2="399.2" stroke="#e06862" stroke-width="0.9" stroke-dasharray="2,1.5"/>
<text x="296.8" y="367.5" text-anchor="middle" font-size="12" fill="#3c3c3c" font-weight="normal" stroke="#3c3c3c" stroke-width="0.25" >+/-E3</text>
<text x="296.8" y="382.1" text-anchor="middle" font-size="12" fill="#3c3c3c" font-weight="normal" stroke="#3c3c3c" stroke-width="0.25" >Transgene</text>
<line x1="276.6" y1="389.4" x2="312.35" y2="389.4" stroke="#2e6299" stroke-width="1.8" stroke-dasharray="3.0,3.3"/><path d="M316.2,389.4 L309.20,386.20 L310.04,389.4 L309.20,392.60 Z" fill="#2e6299"/>
<line x1="260.4" y1="432.3" x2="151.95" y2="432.3" stroke="#2e6299" stroke-width="1.8"/><path d="M148.1,432.3 L155.10,429.10 L154.26,432.3 L155.10,435.50 Z" fill="#2e6299"/>
<text x="197.1" y="447.5" text-anchor="middle" font-size="12" fill="#3c3c3c" font-weight="normal" stroke="#3c3c3c" stroke-width="0.25" >E2</text>
<line x1="397.4" y1="432.3" x2="362.35" y2="432.3" stroke="#2e6299" stroke-width="1.8"/><path d="M358.5,432.3 L365.50,429.10 L364.66,432.3 L365.50,435.50 Z" fill="#2e6299"/>
<text x="378.3" y="447.5" text-anchor="middle" font-size="12" fill="#3c3c3c" font-weight="normal" stroke="#3c3c3c" stroke-width="0.25" >E4</text>
<rect x="52.3" y="413.5" width="1.6" height="11.3" fill="#e07a35" opacity="0.45"/><rect x="58.0" y="413.5" width="1.6" height="11.3" fill="#e07a35" opacity="0.45"/><rect x="53.6" y="410" width="4.6" height="8" fill="#d8702c" opacity="0.35"/>
<polyline points="28.3,441 38.8,425.3 49.9,441" fill="none" stroke="#2d2d2d" stroke-width="1.3"/>
<text x="53.2" y="449" text-anchor="middle" font-size="7.1" fill="#3c3c3c" font-weight="normal" stroke="#3c3c3c" stroke-width="0.25" >+/- Tumor specific promoter</text>
<text x="53.3" y="457.6" text-anchor="middle" font-size="7.2" fill="#3c3c3c" font-weight="normal" stroke="#3c3c3c" stroke-width="0.25" >driving E1A</text>
<text x="458.2" y="332.4" text-anchor="start" font-size="14" fill="#2a2a2a" font-weight="bold" >e.</text>
<text x="458.9" y="347.8" text-anchor="start" font-size="12" fill="#3c3c3c" font-weight="normal" stroke="#3c3c3c" stroke-width="0.25" >HDAd vector</text>
<g transform="translate(418.40,366.34) scale(0.532,0.613)"><rect x="72" y="52.3" width="725.2" height="43.70" fill="#ffffff"/>
<line x1="72" y1="52.3" x2="797.2" y2="52.3" stroke="#b4a6b2" stroke-width="1.1" vector-effect="non-scaling-stroke"/>
<line x1="72" y1="96.0" x2="797.2" y2="96.0" stroke="#b4a6b2" stroke-width="1.1" vector-effect="non-scaling-stroke"/>
<rect x="83.4" y="52.3" width="16.30" height="43.70" fill="#f27b52" stroke="#d96a45" stroke-width="0.9" vector-effect="non-scaling-stroke"/><text x="0" y="0" transform="translate(90.45,75.85) rotate(0)" font-weight="bold" stroke="rgba(70,25,10,0.6)" stroke-width="0" text-anchor="middle" dominant-baseline="central" font-size="10.5" fill="rgba(70,25,10,0.6)" letter-spacing="0">Ψ</text>
<rect x="56.2" y="44.6" width="15.90" height="59.20" fill="#f8a45e" stroke="#df8a48" stroke-width="0.9" vector-effect="non-scaling-stroke"/><text x="0" y="0" transform="translate(64.15,74.20) rotate(90)" font-weight="normal" stroke="rgba(35,18,8,0.85)" stroke-width="0.3" text-anchor="middle" dominant-baseline="central" font-size="12" fill="rgba(35,18,8,0.85)" letter-spacing="0">I T R</text>
<rect x="797.2" y="44.6" width="16.10" height="59.20" fill="#f8a45e" stroke="#df8a48" stroke-width="0.9" vector-effect="non-scaling-stroke"/><text x="0" y="0" transform="translate(805.25,74.20) rotate(90)" font-weight="normal" stroke="rgba(35,18,8,0.85)" stroke-width="0.3" text-anchor="middle" dominant-baseline="central" font-size="12" fill="rgba(35,18,8,0.85)" letter-spacing="0">I T R</text></g>
<text x="642.8" y="380.8" text-anchor="middle" font-size="12" fill="#3c3c3c" font-weight="normal" stroke="#3c3c3c" stroke-width="0.25" >Transgene</text>
<line x1="473.1" y1="387.2" x2="835.15" y2="387.2" stroke="#f2e430" stroke-width="2"/><path d="M839,387.2 L832.00,384.00 L832.84,387.2 L832.00,390.40 Z" fill="#f2e430"/>
</svg>
</body></html>
